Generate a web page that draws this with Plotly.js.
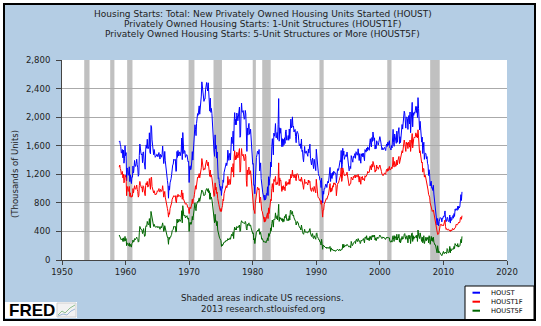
<!DOCTYPE html>
<html><head><meta charset="utf-8">
<script src="https://cdn.plot.ly/plotly-3.0.1.min.js"></script>
<style>html,body{margin:0;padding:0;background:#fff;}#chart{width:541px;height:326px;}</style>
</head><body><div id="chart"></div>
<script>
// ---- data (monthly, SAAR, thousands of units), Jan 1959 .. Dec 2012 ----
const startYear = 1959;
const seriesNames = ['HOUST', 'HOUST1F', 'HOUST5F'];
const seriesColors = ['#0000FF', '#FF0000', '#006600'];

const houst = [
1657,1667,1620,1590,1498,1503,1547,1430,1540,1355,1416,1601,
1460,1503,1109,1289,1266,1186,1192,1305,1097,1194,1086,1070,
1166,1160,1315,1217,1284,1394,1328,1310,1349,1411,1334,1290,
1172,1195,1462,1624,1567,1498,1470,1485,1362,1506,1514,1385,
1299,1271,1541,1611,1565,1690,1561,1560,1596,1781,1508,1487,
1883,1865,1681,1576,1491,1474,1547,1452,1438,1451,1455,1481,
1475,1445,1464,1505,1454,1413,1479,1470,1439,1480,1595,1473,
1350,1413,1520,1389,1286,1204,1169,1113,1052,865,1037,978,
1080,1102,1138,1196,1298,1329,1342,1410,1396,1407,1409,1240,
1244,1519,1437,1534,1458,1501,1513,1458,1479,1525,1708,1405,
1784,1531,1490,1531,1529,1437,1461,1474,1472,1384,1373,1381,
1085,1305,1319,1264,1290,1385,1517,1399,1534,1580,1647,1893,
1828,1741,1910,1986,2049,2026,2083,2158,2041,2128,2182,2295,
2494,2390,2334,2249,2221,2254,2252,2382,2481,2485,2421,2366,
2481,2289,2365,2084,2266,2067,2123,2051,1874,1677,1724,1526,
1451,1752,1555,1607,1426,1513,1316,1142,1150,1070,1026,975,
1032,904,993,1005,1121,1087,1226,1260,1264,1344,1360,1321,
1367,1538,1421,1395,1459,1495,1401,1550,1720,1629,1641,1804,
1527,1943,2063,1892,1971,1893,2058,2020,1949,2042,2042,2142,
1718,1738,2032,2197,2075,2070,2092,1996,1970,1981,2094,2044,
1630,1520,1847,1748,1876,1913,1760,1778,1832,1681,1524,1498,
1341,1350,1047,1051,927,1196,1269,1436,1471,1523,1510,1482,
1547,1246,1306,1360,1140,1045,1041,940,911,873,837,910,
843,866,931,917,1025,902,1166,1046,1144,1173,1372,1303,
1586,1699,1606,1472,1776,1733,1785,1910,1710,1715,1785,1688,
1897,2260,1663,1851,1774,1843,1732,1586,1698,1590,1689,1612,
1711,1632,1800,1821,1680,1676,1684,1743,1676,1834,1698,1942,
1972,1848,1876,2004,1860,1873,1793,1808,1828,1728,1642,1783,
1801,1780,1761,1669,1598,1613,1626,1561,1694,1520,1536,1429,
1375,1493,1590,1496,1497,1527,1494,1465,1452,1551,1500,1568,
1622,1423,1339,1331,1397,1427,1332,1279,1410,1351,1251,1251,
1551,1437,1289,1248,1212,1177,1171,1115,1110,1014,1145,969,
798,965,921,1001,996,1036,1063,1049,1015,1079,1103,1079,
1176,1250,1297,1099,1214,1145,1139,1226,1186,1244,1214,1227,
1210,1210,1083,1258,1260,1280,1254,1300,1343,1392,1376,1533,
1272,1337,1564,1465,1526,1409,1439,1450,1474,1450,1511,1455,
1407,1316,1249,1267,1314,1281,1461,1416,1369,1369,1452,1431,
1467,1491,1424,1516,1504,1467,1472,1557,1475,1392,1489,1370,
1355,1486,1457,1492,1442,1494,1437,1390,1546,1520,1510,1566,
1525,1584,1567,1540,1536,1641,1698,1614,1582,1715,1660,1792,
1748,1670,1710,1553,1611,1559,1669,1648,1635,1608,1648,1697,
1727,1692,1651,1597,1543,1572,1542,1552,1570,1577,1551,1532,
1600,1625,1590,1649,1605,1636,1670,1567,1562,1540,1602,1568,
1698,1829,1642,1592,1764,1717,1655,1633,1804,1648,1753,1788,
1853,1629,1726,1643,1751,1867,1897,1833,1939,1967,2083,2057,
1911,1846,1998,2003,1981,1828,2002,2024,1905,2072,1782,2042,
2144,2207,1864,2061,2025,2068,2054,2095,2151,2065,2147,1994,
2273,2119,1969,1821,1942,1802,1737,1650,1720,1491,1570,1649,
1409,1480,1495,1490,1415,1448,1354,1330,1183,1264,1197,1037,
1084,1103,1005,1013,973,1046,923,844,820,777,652,560,
490,582,505,478,540,585,594,586,585,534,588,581,
614,604,636,687,583,536,546,599,594,543,545,539,
630,517,600,554,561,608,623,585,650,610,711,694,
720,708,695,753,708,754,728,749,847,915,833,954
];

const houst1f = [
1300,1330,1280,1260,1200,1210,1240,1150,1200,1080,1110,1190,
1170,1150,900,1030,1010,960,970,1030,890,940,880,880,
900,890,1000,940,990,1040,1000,990,1010,1050,990,960,
880,900,1040,1100,1060,1020,1010,1020,950,1040,1030,980,
930,900,1040,1080,1050,1100,1020,1030,1050,1140,990,990,
1150,1160,1030,990,950,940,970,920,910,920,920,940,
970,960,970,1000,960,950,990,970,960,980,1040,970,
880,920,960,880,820,760,740,720,680,600,660,640,
720,740,760,800,850,870,870,900,890,900,900,820,
800,900,880,920,890,900,900,880,880,910,980,850,
940,860,840,840,820,780,790,780,780,740,740,720,
650,730,740,720,740,790,850,790,860,870,920,1020,
1040,990,1080,1120,1160,1150,1180,1210,1150,1200,1230,1290,
1420,1340,1300,1260,1260,1280,1270,1330,1390,1400,1350,1320,
1370,1270,1310,1170,1260,1160,1190,1150,1060,960,990,890,
900,1080,980,1020,930,950,860,780,780,740,700,680,
720,680,730,760,850,830,930,960,970,1020,1040,1010,
1030,1170,1080,1050,1110,1130,1060,1170,1300,1230,1240,1350,
1160,1450,1530,1400,1460,1410,1510,1480,1430,1500,1500,1560,
1230,1250,1440,1560,1470,1460,1480,1410,1390,1400,1480,1450,
1110,1030,1260,1190,1280,1300,1200,1210,1250,1150,1040,1030,
880,870,700,690,650,800,850,970,1000,1020,1010,980,
1000,800,860,880,740,690,680,620,600,570,530,600,
540,580,610,600,660,580,730,650,710,740,850,830,
1000,1070,1010,950,1130,1100,1130,1170,1050,1060,1090,1060,
1120,1360,1040,1150,1110,1120,1060,960,1030,980,1040,1000,
1020,970,1090,1100,1040,1060,1060,1090,1060,1130,1060,1160,
1200,1150,1170,1260,1180,1190,1150,1170,1200,1140,1110,1200,
1210,1200,1190,1140,1110,1120,1130,1100,1160,1090,1110,1040,
990,1070,1130,1070,1080,1090,1080,1060,1050,1120,1080,1110,
1100,990,960,960,1010,1010,980,960,1030,1000,950,940,
1130,1010,920,890,870,860,860,830,830,780,830,710,
600,700,700,780,800,830,860,860,850,890,900,910,
970,1030,1070,950,1010,960,980,1040,1020,1080,1060,1080,
1050,1040,900,1060,1060,1080,1080,1110,1140,1190,1190,1290,
1100,1140,1290,1240,1240,1180,1190,1190,1200,1190,1230,1190,
1140,1080,1040,1050,1070,1070,1160,1150,1130,1120,1170,1150,
1180,1190,1150,1190,1170,1160,1170,1200,1150,1090,1170,1100,
1060,1160,1150,1170,1120,1140,1130,1110,1180,1160,1170,1180,
1200,1240,1220,1220,1230,1270,1320,1280,1260,1340,1300,1380,
1360,1310,1320,1230,1260,1250,1330,1290,1300,1270,1300,1330,
1330,1300,1280,1240,1200,1200,1180,1190,1210,1220,1210,1200,
1250,1270,1240,1280,1250,1270,1310,1260,1270,1270,1300,1280,
1330,1440,1320,1300,1380,1350,1310,1320,1400,1330,1390,1430,
1450,1350,1390,1380,1440,1500,1530,1500,1590,1620,1680,1640,
1550,1520,1650,1620,1640,1560,1650,1630,1580,1680,1520,1650,
1720,1770,1570,1690,1700,1720,1710,1730,1780,1720,1760,1710,
1823,1720,1620,1500,1530,1470,1400,1360,1370,1230,1280,1280,
1160,1190,1180,1140,1120,1110,1040,980,920,900,880,800,
770,740,710,680,690,700,650,610,590,550,480,430,
370,357,360,365,400,470,490,500,500,480,490,490,
480,500,530,560,470,430,440,420,430,430,430,410,
420,400,420,410,410,440,440,420,430,430,450,460,
500,490,490,500,510,530,520,530,590,600,570,620
];

const houst5f = [
350,330,320,300,280,290,300,260,310,260,280,330,
270,300,200,240,230,210,200,240,190,220,200,180,
230,240,280,250,260,300,280,290,300,320,300,290,
250,260,380,470,450,430,420,420,370,430,440,370,
330,340,460,480,470,540,500,490,500,580,470,450,
680,640,590,520,480,470,500,460,460,460,460,470,
470,450,460,470,460,430,460,470,450,470,520,470,
400,420,480,430,390,360,350,320,300,220,320,290,
320,320,340,360,410,420,430,470,460,470,470,390,
400,570,520,570,530,560,570,540,560,570,690,520,
760,630,620,620,630,590,600,620,620,580,570,590,
400,520,530,500,500,540,610,560,620,650,670,800,
720,690,770,800,820,810,830,870,820,860,880,930,
980,960,960,920,900,910,910,960,1000,1000,990,960,
1000,940,970,850,940,850,880,850,770,680,690,600,
520,640,540,550,480,540,420,360,360,320,300,280,
270,190,220,200,230,220,250,250,250,270,270,260,
270,300,290,280,300,310,290,330,360,340,340,390,
300,420,460,420,440,420,470,460,450,460,470,490,
400,410,520,550,530,530,530,520,510,510,540,520,
440,420,500,480,510,520,480,480,490,450,400,390,
370,380,280,300,230,330,340,390,400,420,420,410,
440,360,360,390,320,290,300,270,260,250,250,260,
250,240,270,270,310,270,370,330,370,370,450,410,
510,560,520,460,570,560,570,660,590,580,620,560,
650,780,540,600,570,590,580,550,580,530,570,540,
610,590,630,640,570,550,560,580,550,620,560,690,
700,640,650,680,620,630,590,570,560,540,490,530,
540,520,520,480,450,450,450,420,490,400,400,370,
360,390,430,390,390,400,390,380,380,400,390,420,
440,380,330,330,350,370,310,300,340,320,290,290,
370,380,330,320,300,280,280,250,250,210,290,230,
150,210,200,190,180,180,170,180,160,170,180,160,
160,180,190,120,170,150,140,150,130,140,130,140,
120,130,130,140,150,140,130,130,150,140,130,150,
150,150,220,170,220,180,200,200,210,200,220,210,
210,190,180,190,200,170,260,230,200,210,240,240,
250,260,230,280,290,260,260,300,270,260,270,230,
250,280,270,280,280,300,270,240,320,320,300,340,
280,300,310,280,270,330,330,290,280,340,320,350,
340,320,350,280,310,270,300,320,300,300,310,330,
350,330,330,310,300,320,320,320,310,310,290,290,
310,320,310,320,310,310,310,260,260,250,270,250,
320,340,290,260,340,330,300,280,360,280,320,310,
360,250,300,240,280,320,330,290,310,310,360,370,
330,290,310,340,310,240,320,350,300,340,230,340,
370,380,260,340,290,320,310,330,340,310,350,260,
420,350,320,300,380,310,310,260,320,240,260,340,
230,260,280,320,270,310,290,320,240,340,300,220,
290,330,270,310,260,320,250,210,210,210,160,120,
100,200,130,100,120,100,90,70,70,60,80,80,
120,90,90,110,100,100,90,160,150,100,100,110,
190,100,160,130,140,150,160,150,190,160,230,210,
210,200,190,230,180,200,190,200,240,290,240,330
];

// NBER recessions (peak month .. trough month)
const recessionStarts = ['1953-07-01','1957-08-01','1960-04-01','1969-12-01','1973-11-01','1980-01-01','1981-07-01','1990-07-01','2001-03-01','2007-12-01'];
const recessionEnds   = ['1954-05-01','1958-04-01','1961-02-01','1970-11-01','1975-03-01','1980-07-01','1982-11-01','1991-03-01','2001-11-01','2009-06-01'];

const titleLines = [
  'Housing Starts: Total: New Privately Owned Housing Units Started (HOUST)',
  'Privately Owned Housing Starts: 1-Unit Structures (HOUST1F)',
  'Privately Owned Housing Starts: 5-Unit Structures or More (HOUST5F)'
];
const yAxisLabel = '(Thousands of Units)';
const footerLines = ['Shaded areas indicate US recessions.', '2013 research.stlouisfed.org'];
const logoText = 'FRED';

// ---- build ----
function monthDates(n) {
  const out = [];
  for (let i = 0; i < n; i++) {
    const y = startYear + Math.floor(i / 12), m = (i % 12) + 1;
    out.push(y + '-' + String(m).padStart(2, '0') + '-01');
  }
  return out;
}

const allSeries = [houst, houst1f, houst5f];
const traces = allSeries.map((vals, i) => ({
  type: 'scatter', mode: 'lines', name: seriesNames[i],
  x: monthDates(vals.length), y: vals,
  line: { color: seriesColors[i], width: 1 },
  hoverinfo: 'skip'
}));

// pixel helpers for paper placement (plot area: x 62..507, y 60..260)
const W = 541, H = 326, L = 62, R = 34, T = 60, B = 66;
const pw = W - L - R, ph = H - T - B;
const px = v => (v - L) / pw;
const py = v => (H - B - v) / ph;

const font = 'DejaVu Sans, Verdana, sans-serif';
const shapes = [];
// light-blue frame
shapes.push({ type: 'rect', xref: 'paper', yref: 'paper', layer: 'below',
  x0: px(4), x1: px(535), y0: py(320), y1: py(4),
  fillcolor: '#B4CDE4', line: { color: '#000', width: 2 } });
// white plot area
shapes.push({ type: 'rect', xref: 'paper', yref: 'paper', layer: 'below',
  x0: 0, x1: 1, y0: 0, y1: 1, fillcolor: '#FFFFFF', line: { width: 0 } });
// recessions
recessionStarts.forEach((s, i) => shapes.push({ type: 'rect', xref: 'x', yref: 'paper', layer: 'below',
  x0: s, x1: recessionEnds[i], y0: 0, y1: 1, fillcolor: '#C0C0C0', line: { width: 0 } }));
// legend box
shapes.push({ type: 'rect', xref: 'paper', yref: 'paper', layer: 'above',
  x0: px(465), x1: px(534), y0: py(319.5), y1: py(286), fillcolor: '#FFFFFF', line: { color: '#000', width: 1 } });
const legendY = [292.7, 301.7, 310.7];
seriesNames.forEach((n, i) => shapes.push({ type: 'line', xref: 'paper', yref: 'paper', layer: 'above',
  x0: px(472.5), x1: px(480), y0: py(legendY[i]), y1: py(legendY[i]), line: { color: seriesColors[i], width: 2 } }));
// FRED logo box + icon
shapes.push({ type: 'rect', xref: 'paper', yref: 'paper', layer: 'above',
  x0: px(5), x1: px(77), y0: py(318), y1: py(302), fillcolor: '#FFFFFF', line: { width: 0 } });
shapes.push({ type: 'rect', xref: 'paper', yref: 'paper', layer: 'above',
  x0: px(57), x1: px(76), y0: py(317), y1: py(303), fillcolor: '#F2F2F2', line: { color: '#D0D0D0', width: 1 } });
shapes.push({ type: 'path', xref: 'paper', yref: 'paper', layer: 'above',
  path: `M${px(58)},${py(315)} L${px(62)},${py(311)} L${px(65)},${py(313)} L${px(70)},${py(308)} L${px(75)},${py(305)}`,
  line: { color: '#8FC08F', width: 1 } });
shapes.push({ type: 'path', xref: 'paper', yref: 'paper', layer: 'above',
  path: `M${px(58)},${py(316)} L${px(63)},${py(314)} L${px(67)},${py(315)} L${px(71)},${py(311)} L${px(75)},${py(309)}`,
  line: { color: '#9DB8D8', width: 1 } });

const annotations = [];
const titleY = [14, 24.3, 34];
titleLines.forEach((t, i) => annotations.push({ xref: 'paper', yref: 'paper', x: px(262.5), y: py(titleY[i]),
  xanchor: 'center', yanchor: 'middle', showarrow: false, text: t, font: { family: font, size: 9, color: '#222' } }));
const footY = [298.3, 309.3];
footerLines.forEach((t, i) => annotations.push({ xref: 'paper', yref: 'paper', x: px(262.5), y: py(footY[i]),
  xanchor: 'center', yanchor: 'middle', showarrow: false, text: t, font: { family: font, size: 8.7, color: '#222' } }));
annotations.push({ xref: 'paper', yref: 'paper', x: px(15), y: py(174), xanchor: 'center', yanchor: 'middle',
  showarrow: false, textangle: -90, text: yAxisLabel, font: { family: font, size: 8.5, color: '#222' } });
seriesNames.forEach((n, i) => annotations.push({ xref: 'paper', yref: 'paper', x: px(489), y: py(legendY[i]),
  xanchor: 'left', yanchor: 'middle', showarrow: false, text: n, font: { family: font, size: 6.7, color: '#000' } }));
annotations.push({ xref: 'paper', yref: 'paper', x: px(7), y: py(310.5), xanchor: 'left', yanchor: 'middle',
  showarrow: false, text: '<b>' + logoText + '</b>', font: { family: 'Liberation Sans, Arial, sans-serif', size: 17, color: '#000' } });

const layout = {
  width: W, height: H,
  margin: { l: L, r: R, t: T, b: B, pad: 0 },
  paper_bgcolor: '#FFFFFF', plot_bgcolor: '#FFFFFF',
  showlegend: false,
  xaxis: {
    type: 'date', range: ['1950-01-01', '2020-01-01'], tick0: '1950-01-01', dtick: 'M120', tickformat: '%Y',
    ticks: 'outside', ticklen: 4, tickcolor: '#444', tickwidth: 1,
    showline: true, linecolor: '#444', linewidth: 1, showgrid: false, zeroline: false,
    tickfont: { family: font, size: 8.5, color: '#222' }, fixedrange: true
  },
  yaxis: {
    range: [0, 2800], tick0: 0, dtick: 400, tickformat: ',d',
    ticks: 'outside', ticklen: 5, tickcolor: '#444', tickwidth: 1, ticklabelstandoff: 4,
    showline: true, linecolor: '#444', linewidth: 1, showgrid: true, gridcolor: '#AAAAAA', gridwidth: 1, zeroline: false,
    tickfont: { family: font, size: 8.5, color: '#222' }, fixedrange: true
  },
  shapes: shapes, annotations: annotations
};

Plotly.newPlot('chart', traces, layout, { displayModeBar: false, staticPlot: true });
</script>
</body></html>
